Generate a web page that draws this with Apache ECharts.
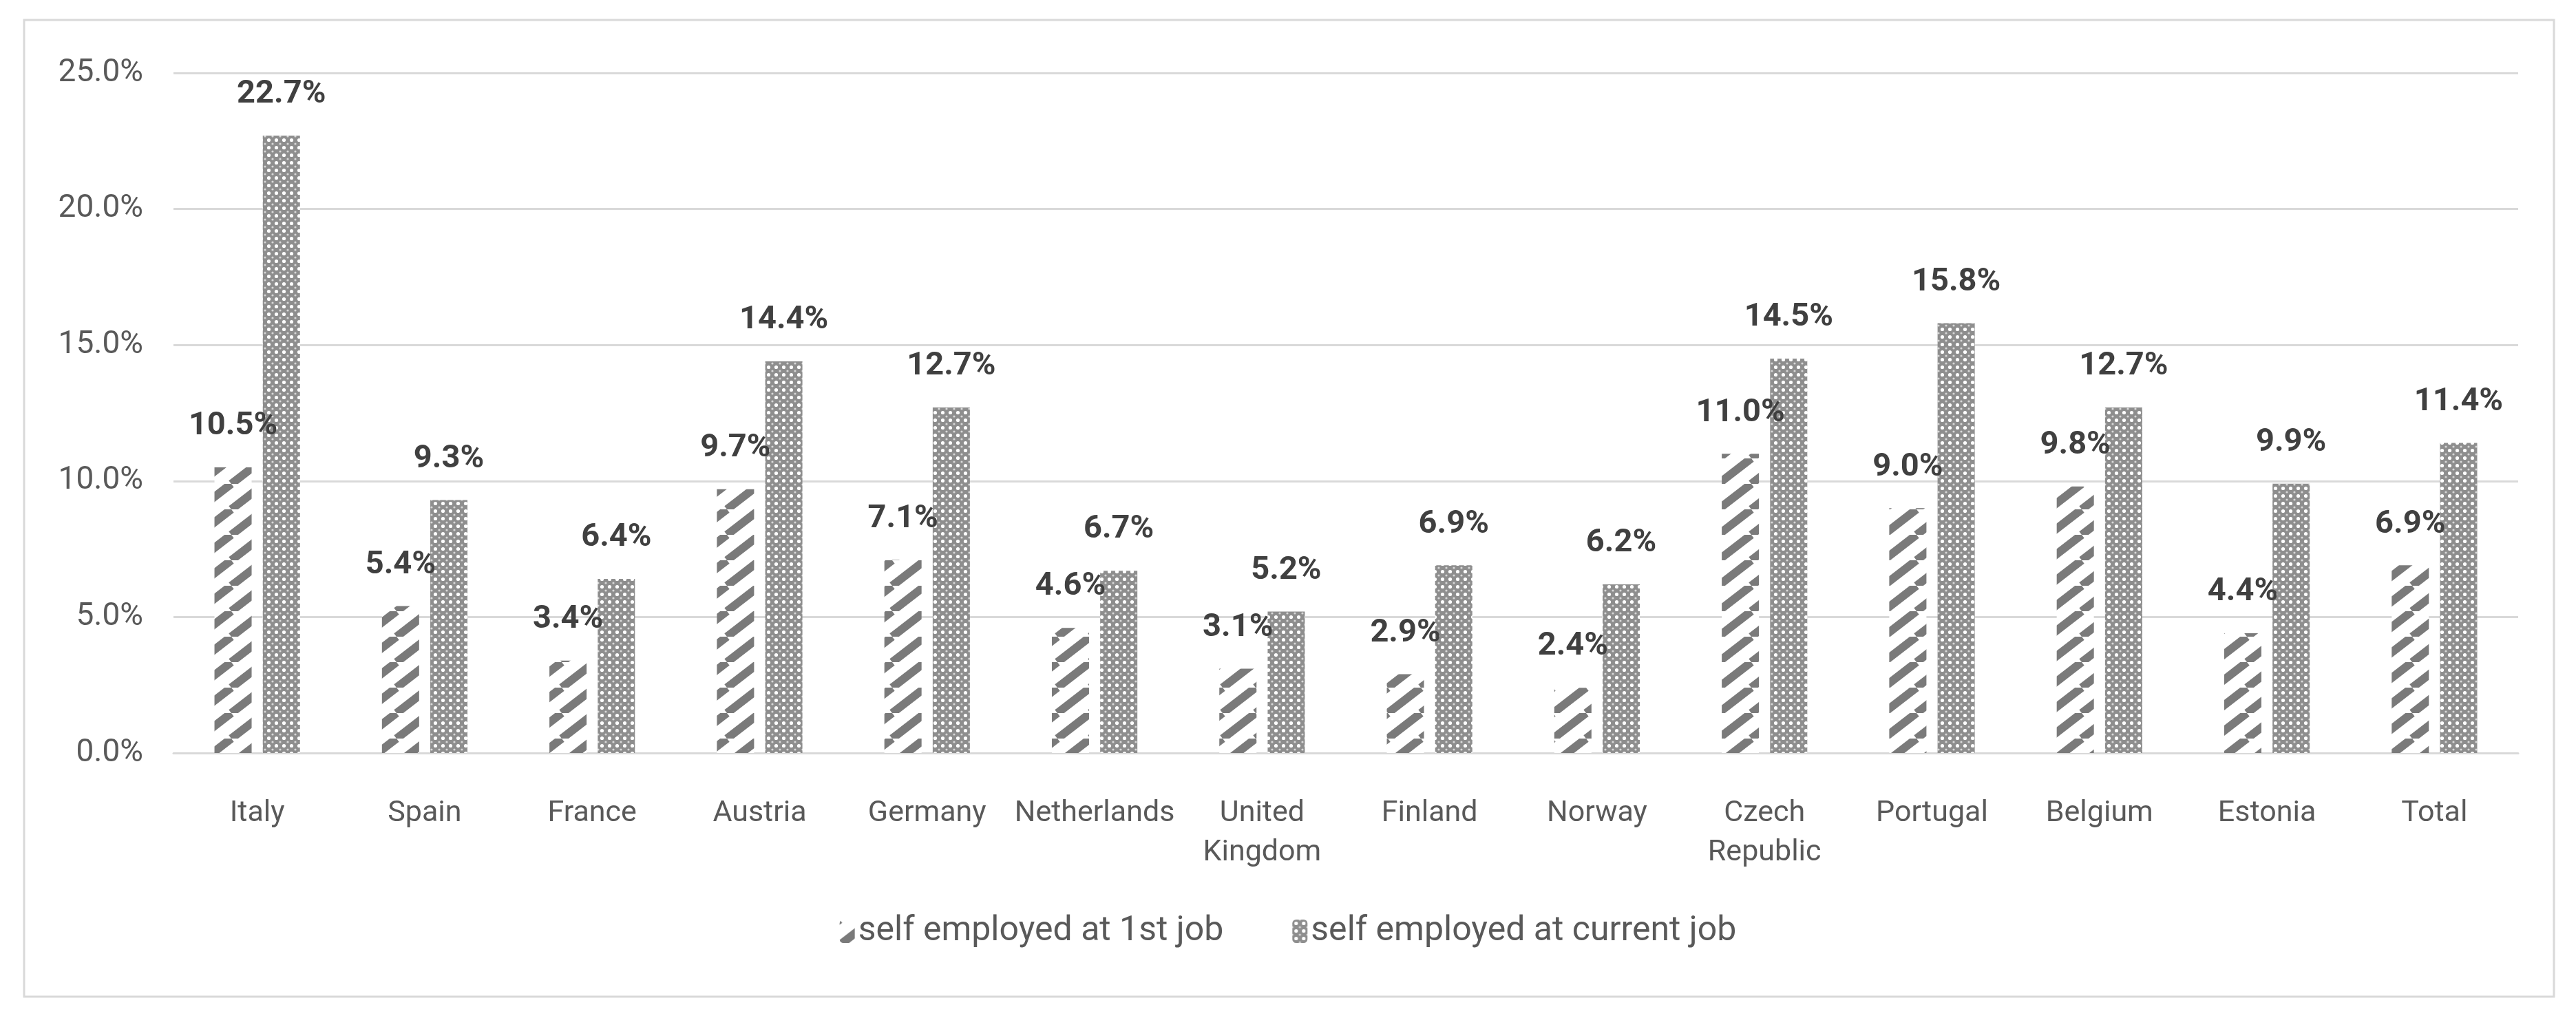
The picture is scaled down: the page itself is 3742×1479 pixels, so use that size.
<!DOCTYPE html>
<html>
<head>
<meta charset="utf-8">
<script src="https://cdn.jsdelivr.net/npm/echarts@6/dist/echarts.min.js"></script>
<style>html,body{margin:0;padding:0;background:#fff;}#c{width:3742px;height:1479px;}</style>
</head>
<body>
<div id="c"></div>
<script>
const categories = ['Italy','Spain','France','Austria','Germany','Netherlands','United\nKingdom','Finland','Norway','Czech\nRepublic','Portugal','Belgium','Estonia','Total'];
const firstJob = [10.5,5.4,3.4,9.7,7.1,4.6,3.1,2.9,2.4,11.0,9.0,9.8,4.4,6.9];
const currentJob = [22.7,9.3,6.4,14.4,12.7,6.7,5.2,6.9,6.2,14.5,15.8,12.7,9.9,11.4];
const seriesNames = ['self employed at 1st job','self employed at current job'];
const yTicks = {min:0, max:25, interval:5};

function hatchPattern(){
  const W=48,H=37;
  const c=document.createElement('canvas');c.width=W;c.height=H;
  const g=c.getContext('2d');
  g.fillStyle='#ffffff';g.fillRect(0,0,W,H);
  g.strokeStyle='#7a7a7a';g.lineWidth=12;g.lineCap='butt';
  for(const dx of [-W,0,W]){
    g.beginPath();g.moveTo(dx,H);g.lineTo(dx+W,0);g.stroke();
  }
  return c;
}
function dotPattern(){
  const c=document.createElement('canvas');c.width=11;c.height=11;
  const g=c.getContext('2d');
  g.fillStyle='#8e8e8e';g.fillRect(0,0,11,11);
  g.fillStyle='#ffffff';
  g.beginPath();g.arc(5.5,5.5,2.6,0,Math.PI*2);g.fill();
  g.fillStyle='#d8d8d8';
  for(const p of [[0,0],[11,0],[0,11],[11,11]]){g.beginPath();g.arc(p[0],p[1],1.6,0,Math.PI*2);g.fill();}
  return c;
}
const hatch={image:hatchPattern(),repeat:'repeat'};
const dots={image:dotPattern(),repeat:'repeat'};

const FONT='Roboto';
const chart=echarts.init(document.getElementById('c'));
const labelCfg={
  show:true,position:'top',distance:36,
  fontFamily:FONT,fontWeight:'bold',fontSize:47,color:'#404040',
  formatter:p=>p.value.toFixed(1)+'%'
};
chart.setOption({
  backgroundColor:'#ffffff',
  animation:false,
  graphic:[{type:'rect',shape:{x:35,y:29,width:3675,height:1419},style:{fill:'none',stroke:'#d9d9d9',lineWidth:3},silent:true}],
  grid:{left:252,right:84,top:106,bottom:385,containLabel:false},
  legend:{
    bottom:96,left:'center',itemWidth:22,itemHeight:34,itemGap:100,
    textStyle:{fontFamily:FONT,fontSize:50,color:'#595959'},
    data:seriesNames
  },
  xAxis:{
    type:'category',data:categories,
    axisLine:{lineStyle:{color:'#d9d9d9',width:3}},
    axisTick:{show:false},
    axisLabel:{interval:0,margin:60,fontFamily:FONT,fontSize:43,lineHeight:57,color:'#595959'}
  },
  yAxis:{
    type:'value',min:yTicks.min,max:yTicks.max,interval:yTicks.interval,
    axisLine:{show:false},axisTick:{show:false},
    splitLine:{lineStyle:{color:'#d9d9d9',width:3}},
    axisLabel:{margin:44,fontFamily:FONT,fontSize:46,color:'#595959',formatter:v=>v.toFixed(1)+'%'}
  },
  series:[
    {name:seriesNames[0],type:'bar',data:firstJob,barWidth:54,barGap:'30%',itemStyle:{color:hatch},label:labelCfg},
    {name:seriesNames[1],type:'bar',data:currentJob,barWidth:54,barGap:'30%',itemStyle:{color:dots},label:labelCfg}
  ]
});
</script>
</body>
</html>
